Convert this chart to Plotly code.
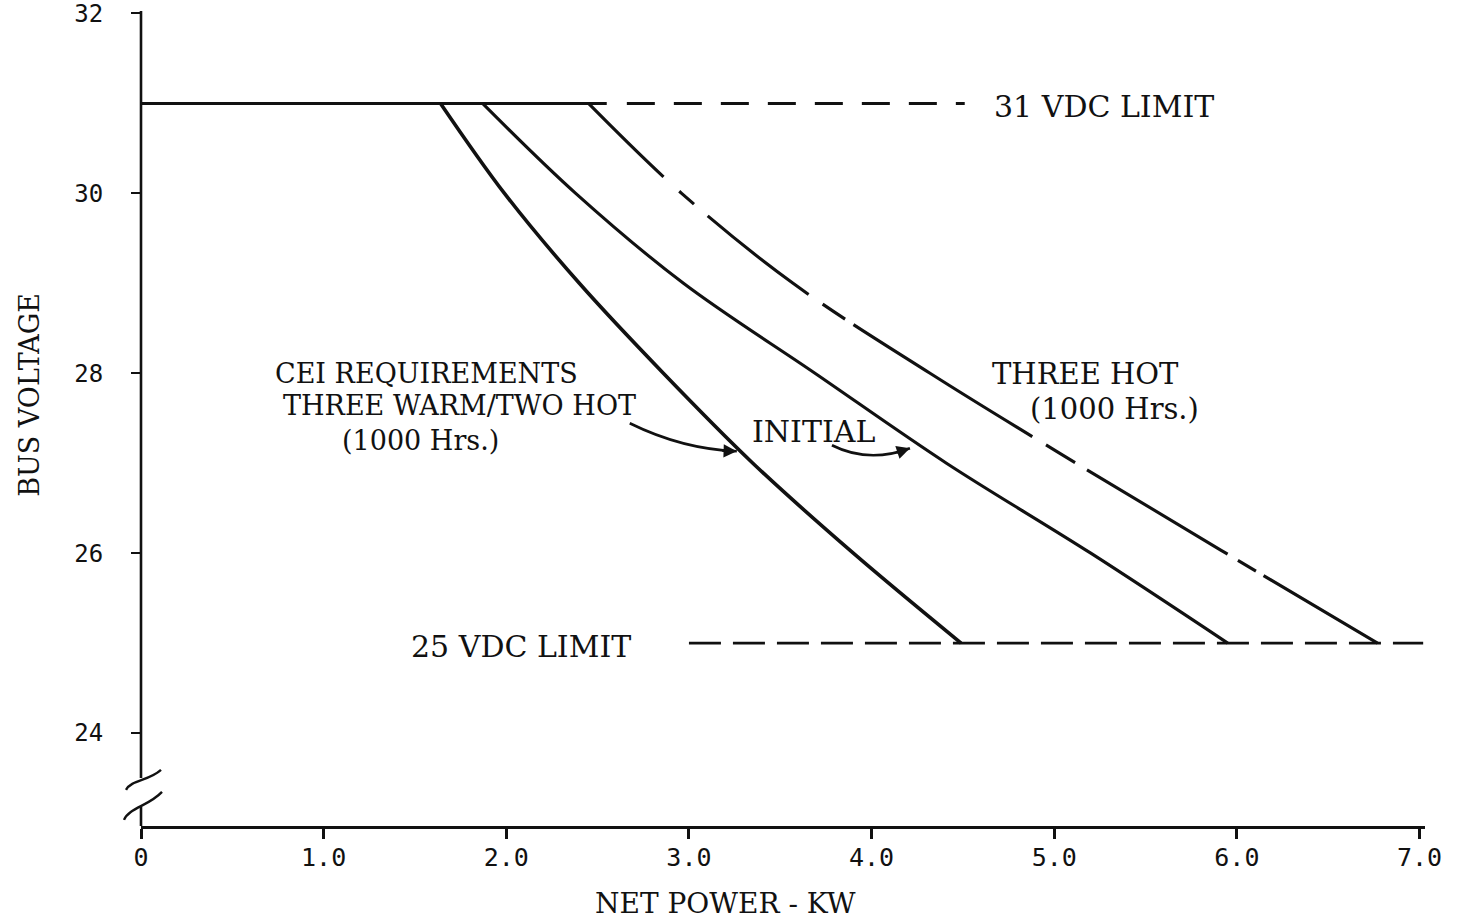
import plotly.graph_objects as go

# ---------------- data ----------------
volts = [31, 30, 29, 28, 27, 26, 25]                      # bus voltage, V
cei_kw = [1.64, 1.99, 2.40, 2.86, 3.35, 3.90, 4.49]       # CEI requirements three warm / two hot (1000 hrs)
initial_kw = [1.87, 2.38, 2.97, 3.69, 4.41, 5.20, 5.95]   # initial
three_hot_kw = [2.45, 2.96, 3.57, 4.32, 5.12, 5.94, 6.77] # three hot (1000 hrs)

limit_31 = 31
limit_25 = 25
limit31_solid_kw = [0.0, 2.55]
limit31_dash_kw = [2.66, 4.51]
limit25_dash_kw = [3.0, 7.02]

x_tickvals = [0, 1, 2, 3, 4, 5, 6, 7]
x_ticktext = ["0", "1.0", "2.0", "3.0", "4.0", "5.0", "6.0", "7.0"]
y_tickvals = [24, 26, 28, 30, 32]
y_ticktext = ["24", "26", "28", "30", "32"]

x_range = [0, 7.03]
y_range = [22.967, 32.005]
y_break = [23.18, 23.5]   # axis break on the voltage axis

INK = "#111111"
SERIF = "DejaVu Serif"

fig = go.Figure()

# limit lines
fig.add_trace(go.Scatter(x=limit31_solid_kw, y=[limit_31] * 2, mode="lines",
                         line=dict(color=INK, width=3), hoverinfo="skip"))
fig.add_trace(go.Scatter(x=limit31_dash_kw, y=[limit_31] * 2, mode="lines",
                         line=dict(color=INK, width=3, dash="28px,19px"), hoverinfo="skip"))
fig.add_trace(go.Scatter(x=limit25_dash_kw, y=[limit_25] * 2, mode="lines",
                         line=dict(color=INK, width=2.6, dash="32px,12px"), hoverinfo="skip"))

# curves
fig.add_trace(go.Scatter(x=cei_kw, y=volts, mode="lines", line_shape="spline",
                         line=dict(color=INK, width=3.6), name="CEI"))
fig.add_trace(go.Scatter(x=initial_kw, y=volts, mode="lines", line_shape="spline",
                         line=dict(color=INK, width=3.1), name="INITIAL"))
fig.add_trace(go.Scatter(x=three_hot_kw, y=volts, mode="lines", line_shape="spline",
                         line=dict(color=INK, width=3.1,
                                   dash="105px,21px,20px,18px,128px,17px,27px,10px,211px,16px,34px,14px,164px,12px,21px,9px,300px"),
                         name="THREE HOT"))

# ---------------- axis line with break (decoration) ----------------
def ypaper(v):
    return (v - y_range[0]) / (y_range[1] - y_range[0])

PW = 1457 - 141 - 32   # plot width px
PH = 919 - 13 - 93     # plot height px

shapes = []
shapes.append(dict(type="line", xref="paper", yref="paper", x0=0, x1=0,
                   y0=ypaper(y_break[1]), y1=1.0 + 2 / PH, line=dict(color=INK, width=2.6)))
shapes.append(dict(type="line", xref="paper", yref="paper", x0=0, x1=0,
                   y0=0, y1=ypaper(y_break[0]), line=dict(color=INK, width=2.6)))


def squiggle(yc, pts):
    y0 = ypaper(yc)
    coords = [(dx / PW, y0 - dy / PH) for dx, dy in pts]
    (a, b), (c, d), (e, f), (g, h) = coords
    return f"M {a},{b} C {c},{d} {e},{f} {g},{h}"


shapes.append(dict(type="path", xref="paper", yref="paper",
                   path=squiggle(y_break[1] - 0.02, [(-15, 10), (-10, 0), (8, 1), (20, -10)]),
                   line=dict(color=INK, width=2.4)))
shapes.append(dict(type="path", xref="paper", yref="paper",
                   path=squiggle(y_break[0], [(-17, 13), (-12, 1), (8, -1), (21, -15)]),
                   line=dict(color=INK, width=2.4)))

# curved pointer arrows (decoration)
shapes.append(dict(type="path", xref="x", yref="y",
                   path="M 2.676,27.444 Q 2.964,27.156 3.262,27.133",
                   line=dict(color=INK, width=2.6)))
shapes.append(dict(type="path", xref="x", yref="y",
                   path="M 3.783,27.2 Q 3.985,26.994 4.21,27.167",
                   line=dict(color=INK, width=2.6)))

annotations = []


def label(text, x, y, xanchor="center", size=29):
    annotations.append(dict(text=text, x=x, y=y, xref="x", yref="y", xanchor=xanchor,
                            yanchor="middle", showarrow=False, yshift=-3,
                            font=dict(family=SERIF, size=size, color=INK)))


label("31 VDC LIMIT", 4.66, 31.0, xanchor="left", size=30)
label("25 VDC LIMIT", 1.47, 25.0, xanchor="left", size=30)
label("CEI REQUIREMENTS", 1.565, 28.03, size=27)
label("THREE WARM/TWO HOT", 1.745, 27.67, size=27)
label("(1000 Hrs.)", 1.53, 27.29, size=27)
label("INITIAL", 3.68, 27.39, size=30)
label("THREE HOT", 5.17, 28.02, size=29)
label("(1000 Hrs.)", 5.33, 27.64, size=29)

# arrowheads
annotations.append(dict(x=3.262, y=27.133, xref="x", yref="y", text="", showarrow=True,
                        ax=-16, ay=-0.5, arrowhead=2, arrowsize=1.1, arrowwidth=2.4,
                        arrowcolor=INK))
annotations.append(dict(x=4.21, y=27.167, xref="x", yref="y", text="", showarrow=True,
                        ax=-15, ay=5, arrowhead=2, arrowsize=1.1, arrowwidth=2.4,
                        arrowcolor=INK))

# axis titles
annotations.append(dict(text="NET POWER - KW", x=3.2, y=-(903 - 826) / PH, xref="x", yref="paper",
                        xanchor="center", yanchor="middle", showarrow=False,
                        font=dict(family=SERIF, size=28, color=INK)))
annotations.append(dict(text="BUS VOLTAGE", x=-(141 - 30) / PW, y=27.76, xref="paper", yref="y",
                        xanchor="center", yanchor="middle", showarrow=False, textangle=-90,
                        font=dict(family=SERIF, size=27, color=INK)))

fig.update_layout(
    width=1457, height=919,
    margin=dict(l=141, r=32, t=13, b=93, autoexpand=False),
    paper_bgcolor="white", plot_bgcolor="white",
    showlegend=False,
    shapes=shapes,
    annotations=annotations,
    xaxis=dict(range=x_range, showline=True, linecolor=INK, linewidth=2.6, automargin=False,
               ticks="outside", ticklen=10, tickwidth=2.6, tickcolor=INK,
               tickvals=x_tickvals, ticktext=x_ticktext, ticklabelstandoff=-3,
               ticklabeloverflow="allow",
               tickfont=dict(family="DejaVu Sans Mono", size=25, color=INK),
               showgrid=False, zeroline=False),
    yaxis=dict(range=y_range, showline=False, automargin=False,
               ticks="outside", ticklen=9, tickwidth=2.4, tickcolor=INK,
               tickvals=y_tickvals, ticktext=y_ticktext, ticklabelstandoff=23,
               ticklabeloverflow="allow",
               tickfont=dict(family="DejaVu Sans Mono", size=24, color=INK),
               showgrid=False, zeroline=False),
)

fig.write_html("out.html", config={"displayModeBar": False},
               post_script="document.body.style.margin='0';document.body.style.overflow='hidden';")
